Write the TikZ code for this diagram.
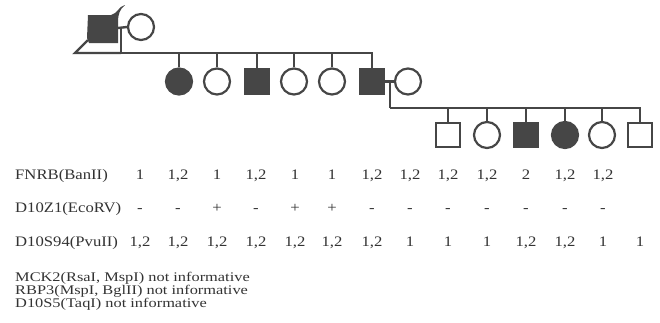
\documentclass[tikz,border=0pt]{standalone}
\usepackage{fontspec}
\newfontfamily\reffont[FakeStretch=1.15]{Liberation Serif}
\newfontfamily\notefont[FakeStretch=1.24]{Liberation Serif}
\definecolor{ink}{HTML}{464646}
\definecolor{txt}{HTML}{333333}
\begin{document}
\begin{tikzpicture}[x=1pt,y=-1pt,
  lin/.style={draw=ink,line width=2.4pt},
  sq/.style={rectangle,draw=ink,line width=2.2pt,minimum size=24.5pt,inner sep=0pt},
  ci/.style={circle,draw=ink,line width=2.2pt,minimum size=26pt,inner sep=0pt},
  aff/.style={fill=ink},
  lab/.style={anchor=base west,inner sep=0pt,text=txt,font=\reffont\fontsize{14.5}{15}\selectfont},
  note/.style={anchor=base west,inner sep=0pt,text=txt,font=\notefont\fontsize{13.2}{13}\selectfont},
  val/.style={anchor=base,inner sep=0pt,text=txt,font=\reffont\fontsize{14.5}{15}\selectfont}]
\useasboundingbox[fill=white] (0,0) rectangle (660,322);
% generation I
\fill[ink] (87,38) -- (88,15) -- (111,15) .. controls (117,14) and (119,6) .. (125,5)
  .. controls (120,9) and (118,14) .. (118,22) -- (118,43) -- (89,43) -- cycle;
\coordinate (f1) at (118,28);
\coordinate (f0) at (88,40);
\coordinate (fl) at (75,53);
\node[ci] (m1) at (141,27) {};
\coordinate (d1) at (121,28);
\coordinate (s1) at (121,53);
\draw[lin] (f0) -- (fl) -- (s1);
\draw[lin] (f1) -- (m1.west);
\draw[lin] (d1) -- (s1);
% generation II
\node[ci,aff] (a1) at (179,81.5) {};
\node[ci] (a2) at (217,81.5) {};
\node[sq,aff] (a3) at (257,81.5) {};
\node[ci] (a4) at (294,81.5) {};
\node[ci] (a5) at (332,81.5) {};
\node[sq,aff] (a6) at (372,81.5) {};
\node[ci] (a7) at (408,81.5) {};
\draw[lin] (s1) -| (a6.north);
\foreach \n in {a1,a2,a3,a4,a5} \draw[lin] (\n.north) -- (\n.north |- s1);
\coordinate (d2) at (390,81.5);
\coordinate (s2) at (390,108);
\draw[lin] (a6.east) -- (a7.west);
\draw[lin] (d2) -- (s2);
% generation III
\node[sq] (b1) at (448,135) {};
\node[ci] (b2) at (487,135) {};
\node[sq,aff] (b3) at (526,135) {};
\node[ci,aff] (b4) at (565,135) {};
\node[ci] (b5) at (602,135) {};
\node[sq] (b6) at (640,135) {};
\draw[lin] (s2) -| (b6.north);
\foreach \n in {b1,b2,b3,b4,b5} \draw[lin] (\n.north) -- (\n.north |- s2);
% table
\node[lab] (l1) at (15,179) {FNRB(BanII)};
\node[lab] (l2) at (15,212) {D10Z1(EcoRV)};
\node[lab] (l3) at (15,246) {D10S94(PvuII)};
\node[note] (n1) at (15,281.5) {MCK2(RsaI, MspI) not informative};
\node[note] (n2) at (15,294.5) {RBP3(MspI, BglII) not informative};
\node[note] (n3) at (15,307.5) {D10S5(TaqI) not informative};
\foreach \x/\v [count=\i] in {140/1,178/{1,2},217/1,256/{1,2},295/1,332/1,372/{1,2},410/{1,2},448/{1,2},487/{1,2},526/2,565/{1,2},603/{1,2}}
  \node[val] (r1c\i) at (\x,179) {\v};
\foreach \x/\v [count=\i] in {140/-,178/-,217/+,256/-,295/+,332/+,372/-,410/-,448/-,487/-,526/-,565/-,603/-}
  \node[val] (r2c\i) at (\x,212) {\v};
\foreach \x/\v [count=\i] in {140/{1,2},178/{1,2},217/{1,2},256/{1,2},295/{1,2},332/{1,2},372/{1,2},410/1,448/1,487/1,526/{1,2},565/{1,2},603/1,640/1}
  \node[val] (r3c\i) at (\x,246) {\v};
\end{tikzpicture}
\end{document}
